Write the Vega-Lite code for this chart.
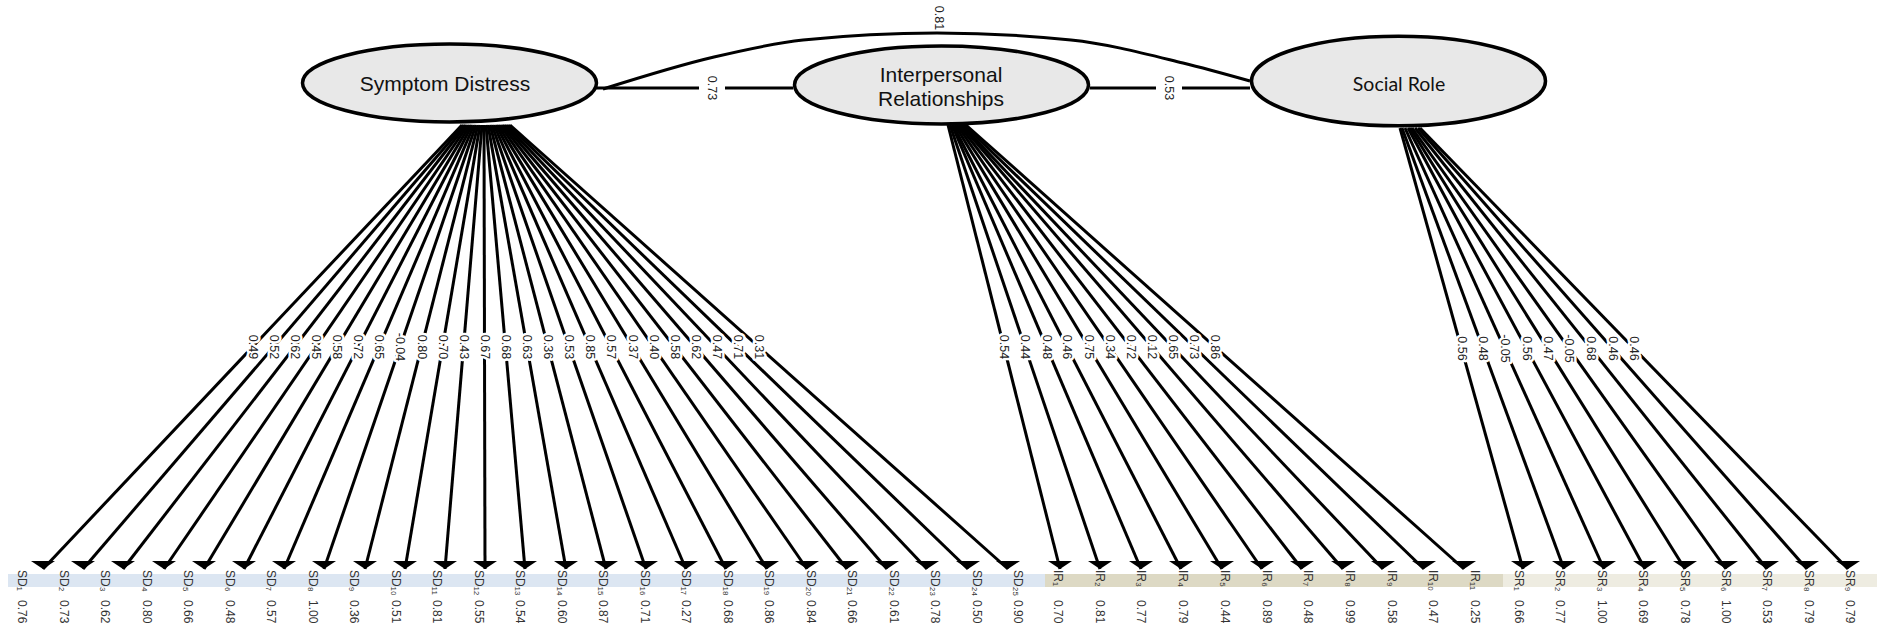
{
"$schema":"https://vega.github.io/schema/vega-lite/v6.json",
"width":1889,"height":632,
"autosize":{"type":"fit","contains":"padding"},
"padding":0,
"background":"white",
"config":{"view":{"stroke":null}},
"datasets":{
"bands":[
{"f":"SD","x":8,"x2":1045,"y":574,"y2":587},
{"f":"IR","x":1045,"x2":1503,"y":574,"y2":587},
{"f":"SR","x":1503,"x2":1877,"y":574,"y2":587}],
"edges":[
{"f":"SD","lab":"SD₁","res":"0.76","load":"0.49","x0":462,"y0":125,"x1":43,"y1":569,"lx":252.5,"ly":347,"xl":22,"yl":570,"yr":600},
{"f":"SD","lab":"SD₂","res":"0.73","load":"0.52","x0":464,"y0":125,"x1":83,"y1":569,"lx":273.5,"ly":347,"xl":64,"yl":570,"yr":600},
{"f":"SD","lab":"SD₃","res":"0.62","load":"0.62","x0":466,"y0":125,"x1":123,"y1":569,"lx":294.5,"ly":347,"xl":105,"yl":570,"yr":600},
{"f":"SD","lab":"SD₄","res":"0.80","load":"0.45","x0":468,"y0":125,"x1":164,"y1":569,"lx":316,"ly":347,"xl":147,"yl":570,"yr":600},
{"f":"SD","lab":"SD₅","res":"0.66","load":"0.58","x0":470,"y0":125,"x1":204,"y1":569,"lx":337,"ly":347,"xl":188,"yl":570,"yr":600},
{"f":"SD","lab":"SD₆","res":"0.48","load":"0.72","x0":472,"y0":125,"x1":244,"y1":569,"lx":358,"ly":347,"xl":230,"yl":570,"yr":600},
{"f":"SD","lab":"SD₇","res":"0.57","load":"0.65","x0":474,"y0":125,"x1":284,"y1":569,"lx":379,"ly":347,"xl":271,"yl":570,"yr":600},
{"f":"SD","lab":"SD₈","res":"1.00","load":"-0.04","x0":476,"y0":125,"x1":324,"y1":569,"lx":400,"ly":347,"xl":313,"yl":570,"yr":600},
{"f":"SD","lab":"SD₉","res":"0.36","load":"0.80","x0":478,"y0":125,"x1":365,"y1":569,"lx":421.5,"ly":347,"xl":354,"yl":570,"yr":600},
{"f":"SD","lab":"SD₁₀","res":"0.51","load":"0.70","x0":480,"y0":125,"x1":405,"y1":569,"lx":442.5,"ly":347,"xl":396,"yl":570,"yr":600},
{"f":"SD","lab":"SD₁₁","res":"0.81","load":"0.43","x0":482,"y0":125,"x1":445,"y1":569,"lx":463.5,"ly":347,"xl":437,"yl":570,"yr":600},
{"f":"SD","lab":"SD₁₂","res":"0.55","load":"0.67","x0":484,"y0":125,"x1":485,"y1":569,"lx":484.5,"ly":347,"xl":479,"yl":570,"yr":600},
{"f":"SD","lab":"SD₁₃","res":"0.54","load":"0.68","x0":486,"y0":125,"x1":525,"y1":569,"lx":505.5,"ly":347,"xl":520,"yl":570,"yr":600},
{"f":"SD","lab":"SD₁₄","res":"0.60","load":"0.63","x0":488,"y0":125,"x1":566,"y1":569,"lx":527,"ly":347,"xl":562,"yl":570,"yr":600},
{"f":"SD","lab":"SD₁₅","res":"0.87","load":"0.36","x0":490,"y0":125,"x1":606,"y1":569,"lx":548,"ly":347,"xl":603,"yl":570,"yr":600},
{"f":"SD","lab":"SD₁₆","res":"0.71","load":"0.53","x0":492,"y0":125,"x1":646,"y1":569,"lx":569,"ly":347,"xl":645,"yl":570,"yr":600},
{"f":"SD","lab":"SD₁₇","res":"0.27","load":"0.85","x0":494,"y0":125,"x1":686,"y1":569,"lx":590,"ly":347,"xl":686,"yl":570,"yr":600},
{"f":"SD","lab":"SD₁₈","res":"0.68","load":"0.57","x0":496,"y0":125,"x1":726,"y1":569,"lx":611,"ly":347,"xl":728,"yl":570,"yr":600},
{"f":"SD","lab":"SD₁₉","res":"0.86","load":"0.37","x0":498,"y0":125,"x1":767,"y1":569,"lx":632.5,"ly":347,"xl":769,"yl":570,"yr":600},
{"f":"SD","lab":"SD₂₀","res":"0.84","load":"0.40","x0":500,"y0":125,"x1":807,"y1":569,"lx":653.5,"ly":347,"xl":811,"yl":570,"yr":600},
{"f":"SD","lab":"SD₂₁","res":"0.66","load":"0.58","x0":502,"y0":125,"x1":847,"y1":569,"lx":674.5,"ly":347,"xl":852,"yl":570,"yr":600},
{"f":"SD","lab":"SD₂₂","res":"0.61","load":"0.62","x0":504,"y0":125,"x1":887,"y1":569,"lx":695.5,"ly":347,"xl":894,"yl":570,"yr":600},
{"f":"SD","lab":"SD₂₃","res":"0.78","load":"0.47","x0":506,"y0":125,"x1":927,"y1":569,"lx":716.5,"ly":347,"xl":935,"yl":570,"yr":600},
{"f":"SD","lab":"SD₂₄","res":"0.50","load":"0.71","x0":508,"y0":125,"x1":968,"y1":569,"lx":738,"ly":347,"xl":977,"yl":570,"yr":600},
{"f":"SD","lab":"SD₂₅","res":"0.90","load":"0.31","x0":510,"y0":125,"x1":1008,"y1":569,"lx":759,"ly":347,"xl":1018,"yl":570,"yr":600},
{"f":"IR","lab":"IR₁","res":"0.70","load":"0.54","x0":948,"y0":125,"x1":1060,"y1":569,"lx":1004,"ly":347,"xl":1058,"yl":570,"yr":600},
{"f":"IR","lab":"IR₂","res":"0.81","load":"0.44","x0":950,"y0":125,"x1":1100,"y1":569,"lx":1025,"ly":347,"xl":1100,"yl":570,"yr":600},
{"f":"IR","lab":"IR₃","res":"0.77","load":"0.48","x0":952,"y0":125,"x1":1141,"y1":569,"lx":1046.5,"ly":347,"xl":1141,"yl":570,"yr":600},
{"f":"IR","lab":"IR₄","res":"0.79","load":"0.46","x0":953,"y0":125,"x1":1181,"y1":569,"lx":1067,"ly":347,"xl":1183,"yl":570,"yr":600},
{"f":"IR","lab":"IR₅","res":"0.44","load":"0.75","x0":955,"y0":125,"x1":1222,"y1":569,"lx":1088.5,"ly":347,"xl":1225,"yl":570,"yr":600},
{"f":"IR","lab":"IR₆","res":"0.89","load":"0.34","x0":957,"y0":125,"x1":1262,"y1":569,"lx":1109.5,"ly":347,"xl":1267,"yl":570,"yr":600},
{"f":"IR","lab":"IR₇","res":"0.48","load":"0.72","x0":959,"y0":125,"x1":1302,"y1":569,"lx":1130.5,"ly":347,"xl":1308,"yl":570,"yr":600},
{"f":"IR","lab":"IR₈","res":"0.99","load":"0.12","x0":961,"y0":125,"x1":1343,"y1":569,"lx":1152,"ly":347,"xl":1350,"yl":570,"yr":600},
{"f":"IR","lab":"IR₉","res":"0.58","load":"0.65","x0":962,"y0":125,"x1":1383,"y1":569,"lx":1172.5,"ly":347,"xl":1392,"yl":570,"yr":600},
{"f":"IR","lab":"IR₁₀","res":"0.47","load":"0.73","x0":964,"y0":125,"x1":1424,"y1":569,"lx":1194,"ly":347,"xl":1433,"yl":570,"yr":600},
{"f":"IR","lab":"IR₁₁","res":"0.25","load":"0.86","x0":966,"y0":125,"x1":1464,"y1":569,"lx":1215,"ly":347,"xl":1475,"yl":570,"yr":600},
{"f":"SR","lab":"SR₁","res":"0.66","load":"0.56","x0":1400,"y0":128,"x1":1523,"y1":569,"lx":1461.5,"ly":348.5,"xl":1519,"yl":570,"yr":600},
{"f":"SR","lab":"SR₂","res":"0.77","load":"0.48","x0":1402,"y0":128,"x1":1564,"y1":569,"lx":1483,"ly":348.5,"xl":1560,"yl":570,"yr":600},
{"f":"SR","lab":"SR₃","res":"1.00","load":"-0.05","x0":1405,"y0":128,"x1":1604,"y1":569,"lx":1504.5,"ly":348.5,"xl":1602,"yl":570,"yr":600},
{"f":"SR","lab":"SR₄","res":"0.69","load":"0.56","x0":1408,"y0":128,"x1":1645,"y1":569,"lx":1526.5,"ly":348.5,"xl":1643,"yl":570,"yr":600},
{"f":"SR","lab":"SR₅","res":"0.78","load":"0.47","x0":1410,"y0":128,"x1":1685,"y1":569,"lx":1547.5,"ly":348.5,"xl":1685,"yl":570,"yr":600},
{"f":"SR","lab":"SR₆","res":"1.00","load":"-0.05","x0":1412,"y0":128,"x1":1726,"y1":569,"lx":1569,"ly":348.5,"xl":1726,"yl":570,"yr":600},
{"f":"SR","lab":"SR₇","res":"0.53","load":"0.68","x0":1415,"y0":128,"x1":1767,"y1":569,"lx":1591,"ly":348.5,"xl":1767,"yl":570,"yr":600},
{"f":"SR","lab":"SR₈","res":"0.79","load":"0.46","x0":1418,"y0":128,"x1":1807,"y1":569,"lx":1612.5,"ly":348.5,"xl":1809,"yl":570,"yr":600},
{"f":"SR","lab":"SR₉","res":"0.79","load":"0.46","x0":1420,"y0":128,"x1":1848,"y1":569,"lx":1634,"ly":348.5,"xl":1850,"yl":570,"yr":600}],
"cors":[
{"pair":"SD-IR","x":596,"y":88,"x2":793,"y2":88},
{"pair":"IR-SR","x":1090,"y":88,"x2":1250,"y2":88}],
"corLabels":[
{"pair":"SD-IR","r":"0.73","x":712,"y":88,"bg":1},
{"pair":"IR-SR","r":"0.53","x":1169,"y":88,"bg":1},
{"pair":"SD-SR","r":"0.81","x":939,"y":18,"bg":0}],
"curve":[
{"x":603,"y":89},{"x":714,"y":57},{"x":803,"y":40},{"x":937,"y":33},{"x":1071,"y":40},{"x":1183,"y":63},{"x":1250,"y":81}],
"nodes":[
{"node":"SD","x":449.5,"y":83},
{"node":"IR","x":941.5,"y":85},
{"node":"SR","x":1398.5,"y":81}],
"nodeText":[
{"node":"SD","t":"Symptom Distress","x":445,"y":85},
{"node":"IR","t":"Interpersonal","x":941,"y":76},
{"node":"IR","t":"Relationships","x":941,"y":100},
{"node":"SR","t":"Social Role","x":1399,"y":85}]
},
"layer":[
{"data":{"name":"bands"},"mark":{"type":"rect"},
 "encoding":{
  "x":{"field":"x","type":"quantitative","scale":{"domain":[0,1889],"nice":false,"zero":false},"axis":null},
  "x2":{"field":"x2"},
  "y":{"field":"y","type":"quantitative","scale":{"domain":[0,632],"nice":false,"zero":false,"reverse":true},"axis":null},
  "y2":{"field":"y2"},
  "color":{"field":"f","type":"nominal","scale":{"domain":["SD","IR","SR"],"range":["#dce6f2","#ddd9c4","#eeece1"]},"legend":null}}},
{"data":{"name":"edges"},"mark":{"type":"rule","color":"black","strokeWidth":3,"strokeCap":"butt"},
 "encoding":{
  "x":{"field":"x0","type":"quantitative","scale":{"domain":[0,1889],"nice":false,"zero":false},"axis":null},
  "y":{"field":"y0","type":"quantitative","scale":{"domain":[0,632],"nice":false,"zero":false,"reverse":true},"axis":null},
  "x2":{"field":"x1"},"y2":{"field":"y1"}}},
{"data":{"name":"cors"},"mark":{"type":"rule","color":"black","strokeWidth":3},
 "encoding":{
  "x":{"field":"x","type":"quantitative","scale":{"domain":[0,1889],"nice":false,"zero":false},"axis":null},
  "y":{"field":"y","type":"quantitative","scale":{"domain":[0,632],"nice":false,"zero":false,"reverse":true},"axis":null},
  "x2":{"field":"x2"},"y2":{"field":"y2"}}},
{"data":{"name":"curve"},"mark":{"type":"line","color":"black","strokeWidth":3,"interpolate":"monotone"},
 "encoding":{
  "x":{"field":"x","type":"quantitative","scale":{"domain":[0,1889],"nice":false,"zero":false},"axis":null},
  "y":{"field":"y","type":"quantitative","scale":{"domain":[0,632],"nice":false,"zero":false,"reverse":true},"axis":null}}},
{"data":{"name":"nodes"},"mark":{"type":"point","filled":true,"fill":"#e8e8e8","stroke":"black","strokeWidth":3.5,"opacity":1,"fillOpacity":1,"strokeOpacity":1,"size":86436},
 "encoding":{
  "x":{"field":"x","type":"quantitative","scale":{"domain":[0,1889],"nice":false,"zero":false},"axis":null},
  "y":{"field":"y","type":"quantitative","scale":{"domain":[0,632],"nice":false,"zero":false,"reverse":true},"axis":null},
  "shape":{"field":"node","type":"nominal","legend":null,"scale":{"domain":["SD","IR","SR"],"range":[
   "M-1,0C-1,-0.1464,-0.5523,-0.265,0,-0.265C0.5523,-0.265,1,-0.1464,1,0C1,0.1464,0.5523,0.265,0,0.265C-0.5523,0.265,-1,0.1464,-1,0Z",
   "M-1,0C-1,-0.1464,-0.5523,-0.265,0,-0.265C0.5523,-0.265,1,-0.1464,1,0C1,0.1464,0.5523,0.265,0,0.265C-0.5523,0.265,-1,0.1464,-1,0Z",
   "M-1,0C-1,-0.1685,-0.5523,-0.305,0,-0.305C0.5523,-0.305,1,-0.1685,1,0C1,0.1685,0.5523,0.305,0,0.305C-0.5523,0.305,-1,0.1685,-1,0Z"]}}}},
{"data":{"name":"edges"},"mark":{"type":"point","filled":true,"color":"black","opacity":1,"size":576,"shape":"M0,0L-1,-0.67L1,-0.67Z"},
 "encoding":{
  "x":{"field":"x1","type":"quantitative","scale":{"domain":[0,1889],"nice":false,"zero":false},"axis":null},
  "y":{"field":"y1","type":"quantitative","scale":{"domain":[0,632],"nice":false,"zero":false,"reverse":true},"axis":null}}},
{"data":{"name":"edges"},"mark":{"type":"text","angle":90,"align":"center","baseline":"middle","font":"Liberation Sans","fontSize":12.5,"color":"white","stroke":"white","strokeWidth":5,"strokeJoin":"round"},
 "encoding":{
  "x":{"field":"lx","type":"quantitative","scale":{"domain":[0,1889],"nice":false,"zero":false},"axis":null},
  "y":{"field":"ly","type":"quantitative","scale":{"domain":[0,632],"nice":false,"zero":false,"reverse":true},"axis":null},
  "text":{"field":"load"}}},
{"data":{"name":"edges"},"mark":{"type":"text","angle":90,"align":"center","baseline":"middle","font":"Liberation Sans","fontSize":12.5,"color":"#222"},
 "encoding":{
  "x":{"field":"lx","type":"quantitative","scale":{"domain":[0,1889],"nice":false,"zero":false},"axis":null},
  "y":{"field":"ly","type":"quantitative","scale":{"domain":[0,632],"nice":false,"zero":false,"reverse":true},"axis":null},
  "text":{"field":"load"}}},
{"data":{"name":"corLabels"},"transform":[{"filter":"datum.bg == 1"}],"mark":{"type":"point","shape":"square","filled":true,"color":"white","opacity":1,"size":676},
 "encoding":{
  "x":{"field":"x","type":"quantitative","scale":{"domain":[0,1889],"nice":false,"zero":false},"axis":null},
  "y":{"field":"y","type":"quantitative","scale":{"domain":[0,632],"nice":false,"zero":false,"reverse":true},"axis":null}}},
{"data":{"name":"corLabels"},"mark":{"type":"text","angle":90,"align":"center","baseline":"middle","font":"Liberation Sans","fontSize":12.5,"color":"#222"},
 "encoding":{
  "x":{"field":"x","type":"quantitative","scale":{"domain":[0,1889],"nice":false,"zero":false},"axis":null},
  "y":{"field":"y","type":"quantitative","scale":{"domain":[0,632],"nice":false,"zero":false,"reverse":true},"axis":null},
  "text":{"field":"r"}}},
{"data":{"name":"nodeText"},"transform":[{"filter":"datum.node != 'SR'"}],"mark":{"type":"text","align":"center","baseline":"middle","font":"Liberation Sans","fontSize":21,"color":"#111"},
 "encoding":{
  "x":{"field":"x","type":"quantitative","scale":{"domain":[0,1889],"nice":false,"zero":false},"axis":null},
  "y":{"field":"y","type":"quantitative","scale":{"domain":[0,632],"nice":false,"zero":false,"reverse":true},"axis":null},
  "text":{"field":"t"}}},
{"data":{"name":"nodeText"},"transform":[{"filter":"datum.node == 'SR'"}],"mark":{"type":"text","align":"center","baseline":"middle","font":"Lato","fontSize":19.5,"color":"#111"},
 "encoding":{
  "x":{"field":"x","type":"quantitative","scale":{"domain":[0,1889],"nice":false,"zero":false},"axis":null},
  "y":{"field":"y","type":"quantitative","scale":{"domain":[0,632],"nice":false,"zero":false,"reverse":true},"axis":null},
  "text":{"field":"t"}}},
{"data":{"name":"edges"},"mark":{"type":"text","angle":90,"align":"left","baseline":"middle","font":"Liberation Sans","fontSize":12,"color":"#333"},
 "encoding":{
  "x":{"field":"xl","type":"quantitative","scale":{"domain":[0,1889],"nice":false,"zero":false},"axis":null},
  "y":{"field":"yl","type":"quantitative","scale":{"domain":[0,632],"nice":false,"zero":false,"reverse":true},"axis":null},
  "text":{"field":"lab"}}},
{"data":{"name":"edges"},"mark":{"type":"text","angle":90,"align":"left","baseline":"middle","font":"Liberation Sans","fontSize":12,"color":"#333"},
 "encoding":{
  "x":{"field":"xl","type":"quantitative","scale":{"domain":[0,1889],"nice":false,"zero":false},"axis":null},
  "y":{"field":"yr","type":"quantitative","scale":{"domain":[0,632],"nice":false,"zero":false,"reverse":true},"axis":null},
  "text":{"field":"res"}}}
]
}
